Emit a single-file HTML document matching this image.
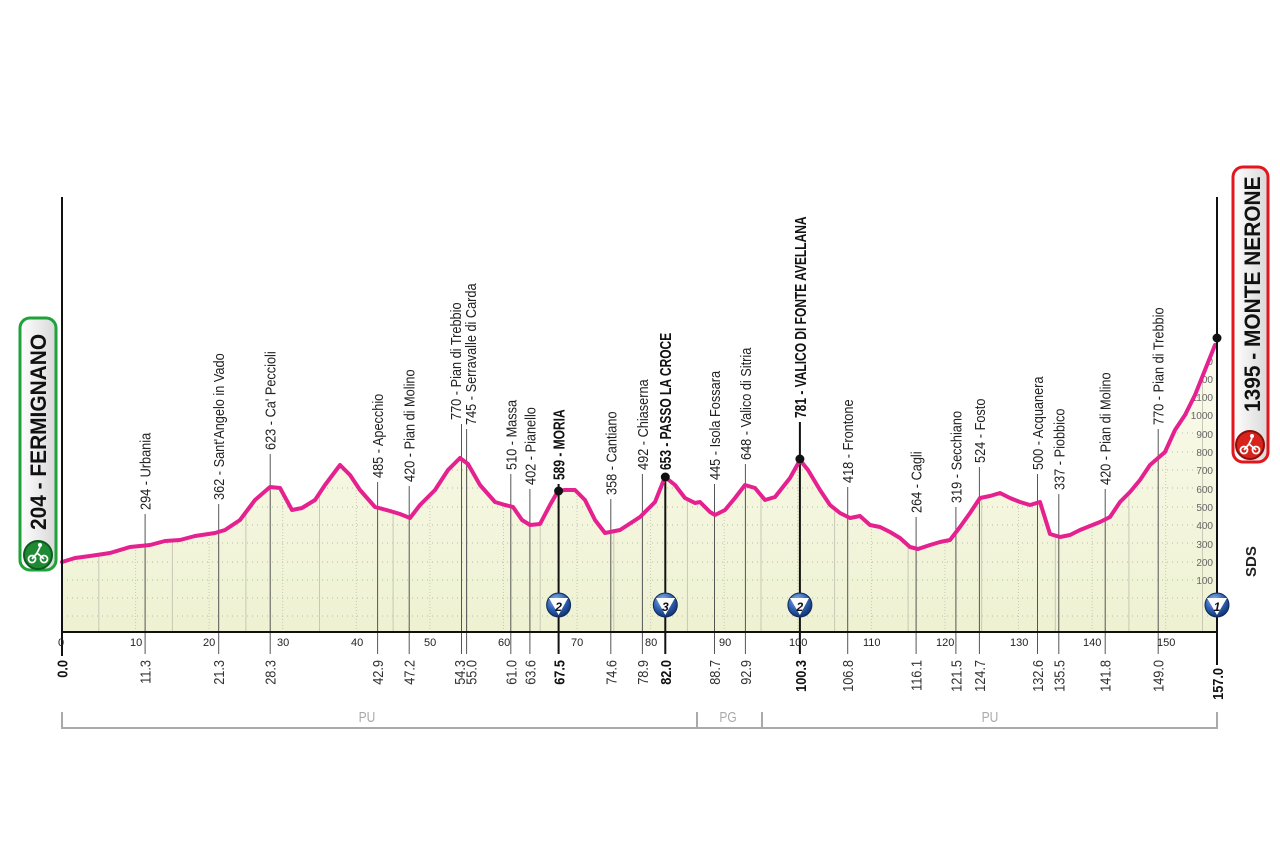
<!DOCTYPE html>
<html><head><meta charset="utf-8"><style>
html,body{margin:0;padding:0;background:#fff;}
svg{display:block;font-family:"Liberation Sans",sans-serif;}
</style></head><body>
<svg width="1280" height="852" viewBox="0 0 1280 852" xmlns="http://www.w3.org/2000/svg">
<defs>
<linearGradient id="fillg" x1="0" y1="0" x2="0" y2="1">
<stop offset="0" stop-color="#fbfbee"/><stop offset="1" stop-color="#eef2d2"/>
</linearGradient>
<radialGradient id="kom" cx="0.4" cy="0.3" r="0.7">
<stop offset="0" stop-color="#8fb4ea"/><stop offset="0.6" stop-color="#2d5fb0"/><stop offset="1" stop-color="#14336e"/>
</radialGradient>
<linearGradient id="boxg" x1="0" y1="0" x2="1" y2="0">
<stop offset="0" stop-color="#ffffff"/><stop offset="1" stop-color="#d8d8d8"/>
</linearGradient>
<path id="area" d="M62,632 L62,562 L75,558 L90,556 L110,553 L130,547 L150,545 L165,541 L180,540 L195,536 L215,533 L225,530 L240,520 L255,500 L270,487 L280,488 L292,510 L302,508 L315,500 L325,485 L340,465 L350,475 L360,490 L375,507 L390,511 L400,514 L410,518 L420,505 L435,490 L448,470 L460,458 L468,464 L480,485 L495,502 L505,505 L513,507 L522,520 L530,525 L540,524 L550,505 L558,491 L565,490 L575,490 L585,500 L595,520 L605,533 L620,530 L640,517 L655,502 L665,477 L675,485 L685,498 L695,503 L700,502 L710,512 L715,515 L725,510 L735,498 L745,485 L755,488 L765,500 L775,497 L790,478 L800,460 L808,470 L820,490 L830,505 L840,513 L850,518 L860,516 L870,525 L880,527 L890,532 L900,538 L910,547 L918,549 L930,545 L940,542 L950,540 L960,527 L970,513 L980,498 L990,496 L1000,493 L1010,498 L1020,502 L1030,505 L1040,502 L1050,534 L1060,537 L1070,535 L1080,530 L1090,526 L1100,522 L1110,517 L1120,502 L1130,492 L1140,480 L1150,465 L1165,452 L1175,430 L1185,415 L1195,395 L1205,370 L1217,338 L1217,632 Z"/>
<clipPath id="clip"><use href="#area"/></clipPath>
</defs>

<use href="#area" fill="url(#fillg)"/>

<g clip-path="url(#clip)">
<g stroke="#b9b9a8" stroke-width="1" stroke-dasharray="1,4">
<line x1="62" y1="616" x2="1217" y2="616"/>
<line x1="62" y1="598" x2="1217" y2="598"/>
<line x1="62" y1="580" x2="1217" y2="580"/>
<line x1="62" y1="562" x2="1217" y2="562"/>
<line x1="62" y1="543" x2="1217" y2="543"/>
<line x1="62" y1="525" x2="1217" y2="525"/>
<line x1="62" y1="507" x2="1217" y2="507"/>
<line x1="62" y1="488" x2="1217" y2="488"/>
<line x1="62" y1="470" x2="1217" y2="470"/>
<line x1="62" y1="452" x2="1217" y2="452"/>
<line x1="62" y1="433" x2="1217" y2="433"/>
<line x1="62" y1="415" x2="1217" y2="415"/>
<line x1="62" y1="397" x2="1217" y2="397"/>
<line x1="62" y1="378" x2="1217" y2="378"/>
<line x1="62" y1="360" x2="1217" y2="360"/>
</g>
<g stroke="#c8c8b4" stroke-width="1">
<line x1="98.8" y1="632" x2="98.8" y2="300"/><line x1="135.6" y1="632" x2="135.6" y2="300" stroke-dasharray="1,2"/>
<line x1="172.4" y1="632" x2="172.4" y2="300"/><line x1="209.1" y1="632" x2="209.1" y2="300" stroke-dasharray="1,2"/>
<line x1="245.9" y1="632" x2="245.9" y2="300"/><line x1="282.7" y1="632" x2="282.7" y2="300" stroke-dasharray="1,2"/>
<line x1="319.5" y1="632" x2="319.5" y2="300"/><line x1="356.3" y1="632" x2="356.3" y2="300" stroke-dasharray="1,2"/>
<line x1="393.1" y1="632" x2="393.1" y2="300"/><line x1="429.9" y1="632" x2="429.9" y2="300" stroke-dasharray="1,2"/>
<line x1="466.7" y1="632" x2="466.7" y2="300"/><line x1="503.5" y1="632" x2="503.5" y2="300" stroke-dasharray="1,2"/>
<line x1="540.2" y1="632" x2="540.2" y2="300"/><line x1="577" y1="632" x2="577" y2="300" stroke-dasharray="1,2"/>
<line x1="613.8" y1="632" x2="613.8" y2="300"/><line x1="650.6" y1="632" x2="650.6" y2="300" stroke-dasharray="1,2"/>
<line x1="687.4" y1="632" x2="687.4" y2="300"/><line x1="724.2" y1="632" x2="724.2" y2="300" stroke-dasharray="1,2"/>
<line x1="761" y1="632" x2="761" y2="300"/><line x1="797.8" y1="632" x2="797.8" y2="300" stroke-dasharray="1,2"/>
<line x1="834.6" y1="632" x2="834.6" y2="300"/><line x1="871.4" y1="632" x2="871.4" y2="300" stroke-dasharray="1,2"/>
<line x1="908.1" y1="632" x2="908.1" y2="300"/><line x1="944.9" y1="632" x2="944.9" y2="300" stroke-dasharray="1,2"/>
<line x1="981.7" y1="632" x2="981.7" y2="300"/><line x1="1018.5" y1="632" x2="1018.5" y2="300" stroke-dasharray="1,2"/>
<line x1="1055.3" y1="632" x2="1055.3" y2="300"/><line x1="1092.1" y1="632" x2="1092.1" y2="300" stroke-dasharray="1,2"/>
<line x1="1128.9" y1="632" x2="1128.9" y2="300"/><line x1="1165.7" y1="632" x2="1165.7" y2="300" stroke-dasharray="1,2"/>
<line x1="1202.5" y1="632" x2="1202.5" y2="300"/>
</g>
<g font-size="10" fill="#666" text-anchor="end">
<text x="1213" y="584">100</text><text x="1213" y="566">200</text><text x="1213" y="548">300</text>
<text x="1213" y="529">400</text><text x="1213" y="511">500</text><text x="1213" y="493">600</text>
<text x="1213" y="474">700</text><text x="1213" y="456">800</text><text x="1213" y="438">900</text>
<text x="1213" y="419">1000</text><text x="1213" y="401">1100</text><text x="1213" y="383">1200</text><text x="1213" y="365">1300</text>
</g>
</g>

<g stroke="#555" stroke-width="1">
<line x1="145.1" y1="514" x2="145.1" y2="654"/>
<line x1="218.7" y1="504" x2="218.7" y2="654"/>
<line x1="270.2" y1="454" x2="270.2" y2="654"/>
<line x1="377.6" y1="482" x2="377.6" y2="654"/>
<line x1="409.2" y1="486" x2="409.2" y2="654"/>
<line x1="461.5" y1="424" x2="461.5" y2="654"/>
<line x1="466.6" y1="429" x2="466.6" y2="654"/>
<line x1="510.8" y1="474" x2="510.8" y2="654"/>
<line x1="529.9" y1="489" x2="529.9" y2="654"/>
<line x1="610.8" y1="499" x2="610.8" y2="654"/>
<line x1="642.4" y1="474" x2="642.4" y2="654"/>
<line x1="714.5" y1="484" x2="714.5" y2="654"/>
<line x1="745.4" y1="464" x2="745.4" y2="654"/>
<line x1="847.7" y1="487" x2="847.7" y2="654"/>
<line x1="916.1" y1="517" x2="916.1" y2="654"/>
<line x1="955.9" y1="507" x2="955.9" y2="654"/>
<line x1="979.4" y1="467" x2="979.4" y2="654"/>
<line x1="1037.5" y1="474" x2="1037.5" y2="654"/>
<line x1="1058.8" y1="494" x2="1058.8" y2="654"/>
<line x1="1105.2" y1="489" x2="1105.2" y2="654"/>
<line x1="1158.2" y1="429" x2="1158.2" y2="654"/>
</g>
<g stroke="#111" stroke-width="2">
<line x1="558.6" y1="484" x2="558.6" y2="654"/>
<line x1="665.3" y1="474" x2="665.3" y2="654"/>
<line x1="799.9" y1="422" x2="799.9" y2="654"/>
</g>

<path d="M62,562 L75,558 L90,556 L110,553 L130,547 L150,545 L165,541 L180,540 L195,536 L215,533 L225,530 L240,520 L255,500 L270,487 L280,488 L292,510 L302,508 L315,500 L325,485 L340,465 L350,475 L360,490 L375,507 L390,511 L400,514 L410,518 L420,505 L435,490 L448,470 L460,458 L468,464 L480,485 L495,502 L505,505 L513,507 L522,520 L530,525 L540,524 L550,505 L558,491 L565,490 L575,490 L585,500 L595,520 L605,533 L620,530 L640,517 L655,502 L665,477 L675,485 L685,498 L695,503 L700,502 L710,512 L715,515 L725,510 L735,498 L745,485 L755,488 L765,500 L775,497 L790,478 L800,460 L808,470 L820,490 L830,505 L840,513 L850,518 L860,516 L870,525 L880,527 L890,532 L900,538 L910,547 L918,549 L930,545 L940,542 L950,540 L960,527 L970,513 L980,498 L990,496 L1000,493 L1010,498 L1020,502 L1030,505 L1040,502 L1050,534 L1060,537 L1070,535 L1080,530 L1090,526 L1100,522 L1110,517 L1120,502 L1130,492 L1140,480 L1150,465 L1165,452 L1175,430 L1185,415 L1195,395 L1205,370 L1215,345" fill="none" stroke="#e5208f" stroke-width="4" stroke-linejoin="round" stroke-linecap="round"/>

<line x1="62" y1="197" x2="62" y2="632" stroke="#111" stroke-width="2"/>
<line x1="1217" y1="197" x2="1217" y2="665" stroke="#111" stroke-width="2"/>
<line x1="62" y1="632" x2="1217" y2="632" stroke="#111" stroke-width="2"/>
<line x1="62" y1="632" x2="62" y2="656" stroke="#111" stroke-width="2"/>

<circle cx="558.6" cy="491" r="4.5" fill="#111"/>
<circle cx="665.3" cy="477" r="4.5" fill="#111"/>
<circle cx="799.9" cy="459" r="4.5" fill="#111"/>
<circle cx="1217" cy="338" r="4.5" fill="#111"/>

<g>
<circle cx="558.6" cy="605" r="12" fill="url(#kom)" stroke="#0d2a5c"/>
<circle cx="665.3" cy="605" r="12" fill="url(#kom)" stroke="#0d2a5c"/>
<circle cx="799.9" cy="605" r="12" fill="url(#kom)" stroke="#0d2a5c"/>
<circle cx="1217" cy="605" r="12" fill="url(#kom)" stroke="#0d2a5c"/>
<path d="M549,598 L568,598 L558.6,615 Z" fill="#fff"/>
<path d="M656,598 L675,598 L665.3,615 Z" fill="#fff"/>
<path d="M790,598 L809,598 L799.9,615 Z" fill="#fff"/>
<path d="M1207,598 L1227,598 L1217,615 Z" fill="#fff"/>
<g font-size="12" font-weight="bold" font-style="italic" fill="#111" text-anchor="middle">
<text x="558.6" y="611">2</text><text x="665.3" y="611">3</text><text x="799.9" y="611">2</text><text x="1217" y="611">1</text>
</g>
</g>

<g font-size="11" fill="#222">
<text x="58" y="646">0</text>
<text x="130" y="646">10</text><text x="203" y="646">20</text><text x="277" y="646">30</text>
<text x="351" y="646">40</text><text x="424" y="646">50</text><text x="498" y="646">60</text>
<text x="571" y="646">70</text><text x="645" y="646">80</text><text x="719" y="646">90</text>
<text x="789" y="646">100</text><text x="863" y="646">110</text><text x="936" y="646">120</text>
<text x="1010" y="646">130</text><text x="1083" y="646">140</text><text x="1157" y="646">150</text>
</g>

<g font-size="15" fill="#222">
<text transform="translate(150.5,510) rotate(-90) scale(0.85,1)">294 - Urbania</text>
<text transform="translate(224.2,500) rotate(-90) scale(0.85,1)">362 - Sant'Angelo in Vado</text>
<text transform="translate(275.7,450) rotate(-90) scale(0.85,1)">623 - Ca' Peccioli</text>
<text transform="translate(383.1,478) rotate(-90) scale(0.85,1)">485 - Apecchio</text>
<text transform="translate(414.7,482) rotate(-90) scale(0.85,1)">420 - Pian di Molino</text>
<text transform="translate(461,420) rotate(-90) scale(0.85,1)">770 - Pian di Trebbio</text>
<text transform="translate(476.1,425) rotate(-90) scale(0.85,1)">745 - Serravalle di Carda</text>
<text transform="translate(516.3,470) rotate(-90) scale(0.85,1)">510 - Massa</text>
<text transform="translate(535.4,485) rotate(-90) scale(0.85,1)">402 - Pianello</text>
<text transform="translate(616.3,495) rotate(-90) scale(0.85,1)">358 - Cantiano</text>
<text transform="translate(647.9,470) rotate(-90) scale(0.85,1)">492 - Chiaserna</text>
<text transform="translate(720,480) rotate(-90) scale(0.85,1)">445 - Isola Fossara</text>
<text transform="translate(750.9,460) rotate(-90) scale(0.85,1)">648 - Valico di Sitria</text>
<text transform="translate(853.2,483) rotate(-90) scale(0.85,1)">418 - Frontone</text>
<text transform="translate(921.6,513) rotate(-90) scale(0.85,1)">264 - Cagli</text>
<text transform="translate(961.4,503) rotate(-90) scale(0.85,1)">319 - Secchiano</text>
<text transform="translate(984.9,463) rotate(-90) scale(0.85,1)">524 - Fosto</text>
<text transform="translate(1043,470) rotate(-90) scale(0.85,1)">500 - Acquanera</text>
<text transform="translate(1064.3,490) rotate(-90) scale(0.85,1)">337 - Piobbico</text>
<text transform="translate(1110.7,485) rotate(-90) scale(0.85,1)">420 - Pian di Molino</text>
<text transform="translate(1163.7,425) rotate(-90) scale(0.85,1)">770 - Pian di Trebbio</text>
</g>
<g font-size="16" font-weight="bold" fill="#111">
<text transform="translate(564.5,480) rotate(-90) scale(0.75,1)">589 - MORIA</text>
<text transform="translate(671.2,470) rotate(-90) scale(0.75,1)">653 - PASSO LA CROCE</text>
<text transform="translate(805.8,418) rotate(-90) scale(0.75,1)">781 - VALICO DI FONTE AVELLANA</text>
</g>

<g font-size="15" fill="#333" text-anchor="end">
<text transform="translate(150.5,660) rotate(-90) scale(0.85,1)">11.3</text>
<text transform="translate(224.2,660) rotate(-90) scale(0.85,1)">21.3</text>
<text transform="translate(275.7,660) rotate(-90) scale(0.85,1)">28.3</text>
<text transform="translate(383.1,660) rotate(-90) scale(0.85,1)">42.9</text>
<text transform="translate(414.7,660) rotate(-90) scale(0.85,1)">47.2</text>
<text transform="translate(465,660) rotate(-90) scale(0.85,1)">54.3</text>
<text transform="translate(476.5,660) rotate(-90) scale(0.85,1)">55.0</text>
<text transform="translate(516.3,660) rotate(-90) scale(0.85,1)">61.0</text>
<text transform="translate(535.4,660) rotate(-90) scale(0.85,1)">63.6</text>
<text transform="translate(616.3,660) rotate(-90) scale(0.85,1)">74.6</text>
<text transform="translate(647.9,660) rotate(-90) scale(0.85,1)">78.9</text>
<text transform="translate(720,660) rotate(-90) scale(0.85,1)">88.7</text>
<text transform="translate(750.9,660) rotate(-90) scale(0.85,1)">92.9</text>
<text transform="translate(853.2,660) rotate(-90) scale(0.85,1)">106.8</text>
<text transform="translate(921.6,660) rotate(-90) scale(0.85,1)">116.1</text>
<text transform="translate(961.4,660) rotate(-90) scale(0.85,1)">121.5</text>
<text transform="translate(984.9,660) rotate(-90) scale(0.85,1)">124.7</text>
<text transform="translate(1043,660) rotate(-90) scale(0.85,1)">132.6</text>
<text transform="translate(1064.3,660) rotate(-90) scale(0.85,1)">135.5</text>
<text transform="translate(1110.7,660) rotate(-90) scale(0.85,1)">141.8</text>
<text transform="translate(1163.7,660) rotate(-90) scale(0.85,1)">149.0</text>
</g>
<g font-size="15" font-weight="bold" fill="#111" text-anchor="end">
<text transform="translate(67.5,660) rotate(-90) scale(0.85,1)">0.0</text>
<text transform="translate(564.5,660) rotate(-90) scale(0.85,1)">67.5</text>
<text transform="translate(671.2,660) rotate(-90) scale(0.85,1)">82.0</text>
<text transform="translate(805.8,660) rotate(-90) scale(0.85,1)">100.3</text>
<text transform="translate(1223,668) rotate(-90) scale(0.85,1)">157.0</text>
</g>

<g stroke="#aaa" stroke-width="2" fill="none">
<path d="M62,712 L62,728 L1217,728 L1217,712"/>
<line x1="697" y1="712" x2="697" y2="728"/>
<line x1="762" y1="712" x2="762" y2="728"/>
</g>
<g font-size="15" fill="#aaa" text-anchor="middle">
<text transform="translate(367,722) scale(0.8,1)">PU</text>
<text transform="translate(728,722) scale(0.8,1)">PG</text>
<text transform="translate(990,722) scale(0.8,1)">PU</text>
</g>

<text transform="translate(1256,577) rotate(-90)" font-size="15" font-weight="bold" fill="#222">SDS</text>

<rect x="20" y="318" width="36" height="252" rx="10" fill="url(#boxg)" stroke="#1fa23a" stroke-width="3"/>
<text transform="translate(46,530) rotate(-90) scale(0.95,1)" font-size="22" font-weight="bold" fill="#111">204 - FERMIGNANO</text>
<circle cx="38" cy="555" r="14" fill="#1f8a33" stroke="#0b5b1d" stroke-width="2"/>
<g stroke="#fff" stroke-width="1.8" fill="none">
<circle cx="32" cy="559" r="3.5"/><circle cx="44" cy="559" r="3.5"/>
<path d="M32,559 L37,553 L44,559 M37,553 L40,547"/>
</g>
<circle cx="40" cy="545" r="2" fill="#fff"/>

<rect x="1233" y="167" width="35" height="295" rx="10" fill="url(#boxg)" stroke="#e3161d" stroke-width="3"/>
<text transform="translate(1260,412) rotate(-90) scale(0.95,1)" font-size="22" font-weight="bold" fill="#111">1395 - MONTE NERONE</text>
<circle cx="1250" cy="445" r="14" fill="#d8231c" stroke="#8a0f0a" stroke-width="2"/>
<g stroke="#fff" stroke-width="1.8" fill="none">
<circle cx="1244" cy="450" r="3.5"/><circle cx="1256" cy="450" r="3.5"/>
<path d="M1244,450 L1249,444 L1256,450 M1249,444 L1252,438"/>
</g>
<circle cx="1252" cy="436" r="2" fill="#fff"/>
</svg>
</body></html>
